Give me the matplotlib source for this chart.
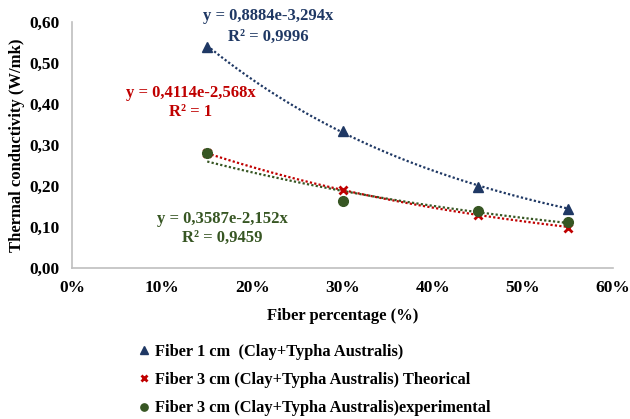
import numpy as np
import matplotlib
matplotlib.use("Agg")
import matplotlib.pyplot as plt

plt.rcParams['font.family'] = ['Liberation Serif', 'DejaVu Serif']
plt.rcParams['font.weight'] = 'bold'

fiber_pct = [0.15, 0.30, 0.45, 0.55]
k_1cm = [0.54, 0.334, 0.198, 0.144]
k_3cm_theo = [0.28, 0.19, 0.129, 0.098]
k_3cm_exp = [0.28, 0.164, 0.139, 0.112]

labels = ["Fiber 1 cm  (Clay+Typha Australis)",
          "Fiber 3 cm (Clay+Typha Australis) Theorical",
          "Fiber 3 cm (Clay+Typha Australis)experimental"]

# exponential trendline coefficients (a, b) for y = a*exp(b*x)
fit_1cm = (0.8884, -3.294)
fit_theo = (0.4114, -2.568)
fit_exp = (0.3587, -2.152)
r2_text = ["R² = 0,9996", "R² = 1", "R² = 0,9459"]
eq_text = ["y = 0,8884e-3,294x", "y = 0,4114e-2,568x", "y = 0,3587e-2,152x"]

c_blue = '#1F3864'
c_red = '#C00000'
c_green = '#375623'

fig = plt.figure(figsize=(6.3, 4.19), dpi=100)
ax = fig.add_axes([72/630, 1-268/419, (613-72)/630, (268-22)/419])

xx = np.linspace(fiber_pct[0], fiber_pct[-1], 100)
for (a, b), c in zip([fit_1cm, fit_theo, fit_exp], [c_blue, c_red, c_green]):
    ax.plot(xx, a*np.exp(b*xx), linestyle=(0, (1, 1)), color=c, lw=1.6, zorder=2)

ax.plot(fiber_pct, k_1cm, linestyle='none', marker='^', color=c_blue, ms=7, label=labels[0], zorder=3)
ax.plot(fiber_pct, k_3cm_theo, linestyle='none', marker='x', color=c_red, ms=6, mew=2, label=labels[1], zorder=3)
ax.plot(fiber_pct, k_3cm_exp, linestyle='none', marker='o', color=c_green, ms=7, label=labels[2], zorder=3)

ax.set_xlim(0, 0.60)
ax.set_ylim(0, 0.60)
xt = np.arange(0, 0.61, 0.1)
ax.set_xticks(xt)
ax.set_xticklabels([f"{int(round(v*100))}%" for v in xt])
yt = np.arange(0, 0.61, 0.1)
ax.set_yticks(yt)
ax.set_yticklabels([f"{v:.2f}".replace('.', ',') for v in yt])
ax.tick_params(length=0, labelsize=12.5, pad=9)
for s in ['top', 'right']:
    ax.spines[s].set_visible(False)
for s in ['left', 'bottom']:
    ax.spines[s].set_color('#BFBFBF')
    ax.spines[s].set_linewidth(1.2)

ax.set_xlabel("Fiber percentage (%)", fontsize=12, fontweight='bold', labelpad=8)
ax.set_ylabel("Thermal conductivity (W/mk)", fontsize=12, fontweight='bold', labelpad=3)

def fig_text(x, y, s, c):
    fig.text(x/630, 1-y/419, s, color=c, fontsize=12, fontweight='bold', ha='center', va='center')

fig_text(268, 16, eq_text[0], c_blue)
fig_text(268, 37, r2_text[0], c_blue)
fig_text(191, 93, eq_text[1], c_red)
fig_text(191, 112, r2_text[1], c_red)
fig_text(222, 219, eq_text[2], c_green)
fig_text(222, 238, r2_text[2], c_green)

fig.legend(loc='upper left', bbox_to_anchor=(140/630, 1-344/419), frameon=False,
           fontsize=11.8, handlelength=0.5, handletextpad=0.4, labelspacing=0.74,
           borderaxespad=0, borderpad=0, markerscale=0.75)

fig.savefig("out.png", dpi=100)
